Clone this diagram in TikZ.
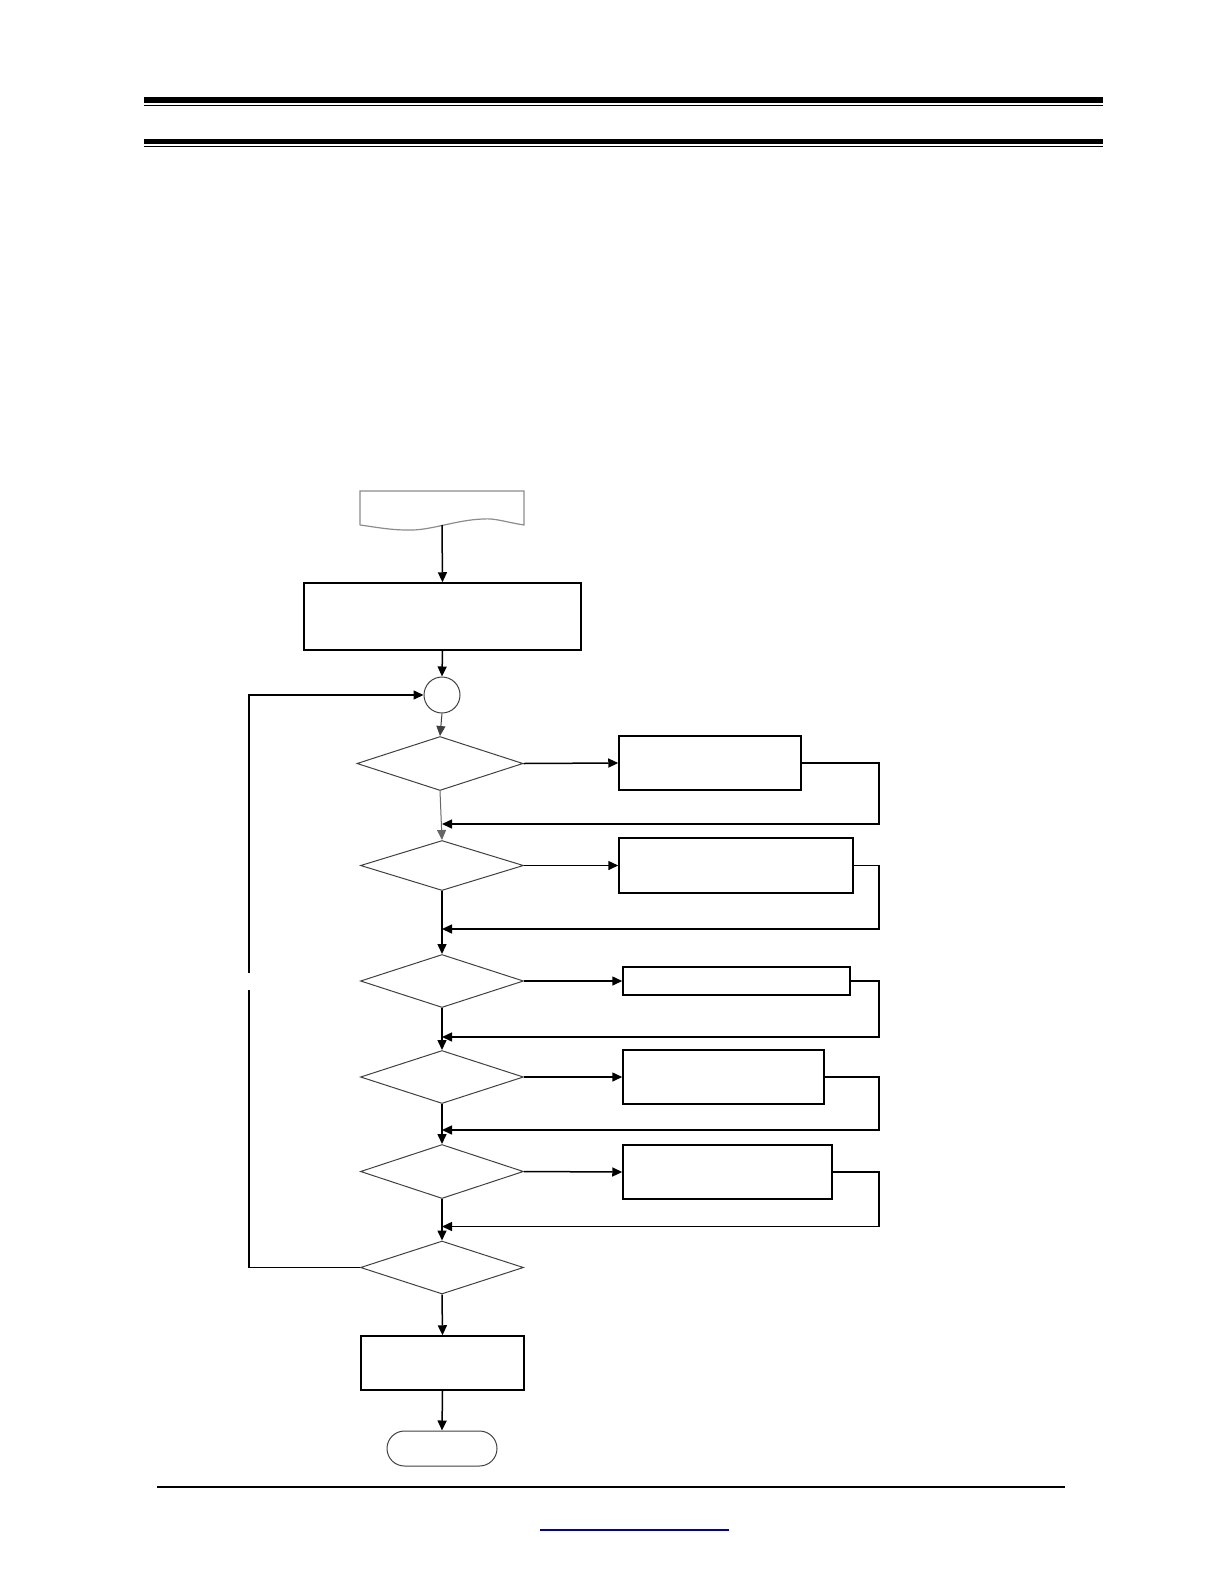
\documentclass[tikz,border=0pt]{standalone}
\usetikzlibrary{shapes.geometric,shapes.misc,arrows.meta}
\begin{document}
\begin{tikzpicture}[x=0.5pt,y=-0.5pt,
  box/.style={draw,line width=0.75pt,rectangle,inner sep=0pt},
  dia/.style={draw=black!75,line width=0.5pt,diamond,inner sep=0pt},
  conn/.style={draw=black!75,line width=0.5pt,circle,inner sep=0pt,minimum size=18pt},
  term/.style={draw=black!75,line width=0.5pt,rounded rectangle,inner sep=0pt},
  link/.style={line width=0.75pt},
  arr/.style={line width=0.75pt,-{Triangle[length=5pt,width=4.5pt]}}]
\useasboundingbox (0,0) rectangle (1224,1584);
% header rules
\fill (144,97) rectangle (1103,103);
\draw[line width=0.75pt] (144,105.5) -- (1103,105.5);
\fill (144,139) rectangle (1103,144);
\draw[line width=0.75pt] (144,146.5) -- (1103,146.5);
% footer
\draw[line width=0.75pt] (157,1487) -- (1065,1487);
\draw[line width=0.75pt,color={rgb,255:red,0;green,0;blue,170}] (540,1530) -- (729,1530);
% document shape
\draw[draw=black!45,line width=0.6pt] (360,525) -- (360,491) -- (524,491) -- (524,525)
  .. controls (505,522) and (495,518) .. (483,519)
  .. controls (455,520) and (430,531) .. (407,530)
  .. controls (390,530) and (375,527) .. (360,525);
\coordinate (doc) at (442,525);
% nodes
\node[box,minimum width=138.5pt,minimum height=33.5pt] (init) at (442.5,616.5) {};
\node[conn] (c) at (442,695) {};
\node[dia,minimum width=83pt,minimum height=27pt] (d1) at (440,763.5) {};
\node[dia,minimum width=81.5pt,minimum height=25pt] (d2) at (442,865.5) {};
\node[dia,minimum width=81.5pt,minimum height=26.5pt] (d3) at (442,981) {};
\node[dia,minimum width=81.5pt,minimum height=26.5pt] (d4) at (442,1077) {};
\node[dia,minimum width=81.5pt,minimum height=27pt] (d5) at (442,1171.5) {};
\node[dia,minimum width=81.5pt,minimum height=26.5pt] (d6) at (442,1267.5) {};
\node[box,minimum width=91pt,minimum height=27pt] (b1) at (710,763) {};
\node[box,minimum width=117pt,minimum height=27.5pt] (b2) at (736,865.5) {};
\node[box,minimum width=113.5pt,minimum height=14pt] (b3) at (736.5,981) {};
\node[box,minimum width=100.5pt,minimum height=27pt] (b4) at (723.5,1077) {};
\node[box,minimum width=104.5pt,minimum height=27pt] (b5) at (727.5,1172) {};
\node[box,minimum width=81.5pt,minimum height=27pt] (fin) at (442.5,1363) {};
\node[term,minimum width=55pt,minimum height=17.5pt] (end) at (442,1448.5) {};
% return points
\coordinate (r1) at (879,824);
\coordinate (r2) at (879,929);
\coordinate (r3) at (879,1037);
\coordinate (r4) at (879,1130);
\coordinate (r5) at (879,1226.5);
\coordinate (la) at (249,973);
\coordinate (lb) at (249,990);
% main flow
\draw[arr] (doc) -- (init.north);
\draw[arr] (init.south) -- (c.north);
\draw[arr,line width=0.5pt,draw=black!75] (c.south) -- (d1.north);
\draw[arr,line width=0.5pt,draw=black!60] (d1.south) -- (d2.north);
\draw[arr] (d2.south) -- (d3.north);
\draw[arr] (d3.south) -- (d4.north);
\draw[arr] (d4.south) -- (d5.north);
\draw[arr] (d5.south) -- (d6.north);
\draw[arr] (d6.south) -- (fin.north);
\draw[arr] (fin.south) -- (end.north);
% side branches
\draw[arr] (d1.east) -- (b1.west);
\draw[arr] (d2.east) -- (b2.west);
\draw[arr] (d3.east) -- (b3.west);
\draw[arr] (d4.east) -- (b4.west);
\draw[arr] (d5.east) -- (b5.west);
\draw[arr] (b1.east) -| (r1) -- (d2.north |- r1);
\draw[arr] (b2.east) -| (r2) -- (d3.north |- r2);
\draw[arr] (b3.east) -| (r3) -- (d4.north |- r3);
\draw[arr] (b4.east) -| (r4) -- (d5.north |- r4);
\draw[arr] (b5.east) -| (r5) -- (d6.north |- r5);
% loop back
\draw[link] (d6.west) -| (lb);
\draw[arr] (la) |- (c.west);
\end{tikzpicture}
\end{document}
